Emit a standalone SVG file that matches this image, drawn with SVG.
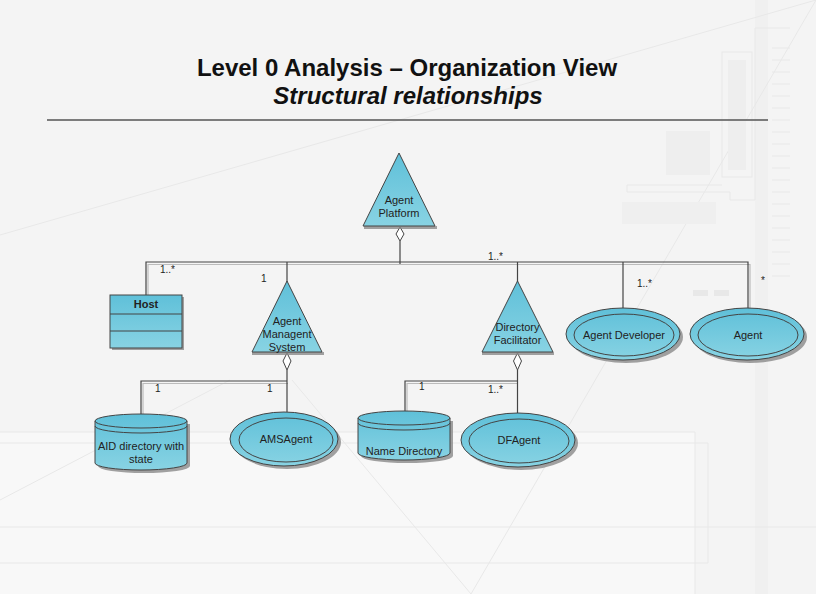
<svg xmlns="http://www.w3.org/2000/svg" width="816" height="594" viewBox="0 0 816 594">
<defs>
<linearGradient id="g" x1="0" y1="0" x2="0" y2="1">
<stop offset="0" stop-color="#5FC0D9"/>
<stop offset="1" stop-color="#88D3E3"/>
</linearGradient>
<style>
.t{font-family:"Liberation Sans",Arial,sans-serif;fill:#111}
.lbl{font-family:"Liberation Sans",Arial,sans-serif;font-size:11px;fill:#222;text-anchor:middle}
.m{font-family:"Liberation Sans",Arial,sans-serif;font-size:10px;fill:#222}
.shape{fill:url(#g);stroke:#444;stroke-width:1}
.sh{fill:#8a8a8a;opacity:0.8}
.ln{fill:none;stroke:#444;stroke-width:1.2}
.lns{fill:none;stroke:#bbb;stroke-width:1.2}
.bg{fill:none;stroke:#e8e8e8;stroke-width:1}
.dia{fill:#fff;stroke:#444;stroke-width:1}
</style>
</defs>
<!-- background -->
<rect width="816" height="594" fill="#f4f4f4"/>
<rect x="0" y="432" width="695" height="162" fill="#f8f8f8"/>
<rect x="755" y="0" width="13" height="594" fill="#f0f0f0"/>
<g class="bg">
<line x1="0" y1="432" x2="695" y2="432"/>
<line x1="0" y1="443" x2="708" y2="443"/>
<line x1="0" y1="527" x2="816" y2="527"/>
<line x1="0" y1="563" x2="708" y2="563"/>
<line x1="695" y1="432" x2="695" y2="594"/>
<line x1="708" y1="443" x2="708" y2="563"/>
<line x1="816" y1="0" x2="0" y2="235"/>
<line x1="816" y1="0" x2="471" y2="594"/>
<line x1="292" y1="380" x2="471" y2="594"/>
<line x1="230" y1="380" x2="0" y2="500"/>
<line x1="772" y1="48" x2="790" y2="48"/><line x1="772" y1="60" x2="790" y2="60"/>
<line x1="772" y1="72" x2="790" y2="72"/><line x1="772" y1="84" x2="790" y2="84"/>
<line x1="772" y1="96" x2="790" y2="96"/><line x1="772" y1="108" x2="790" y2="108"/>
<line x1="772" y1="120" x2="790" y2="120"/><line x1="772" y1="132" x2="790" y2="132"/>
<line x1="772" y1="144" x2="790" y2="144"/><line x1="772" y1="156" x2="790" y2="156"/>
<line x1="772" y1="168" x2="790" y2="168"/><line x1="772" y1="180" x2="790" y2="180"/>
<line x1="772" y1="192" x2="790" y2="192"/><line x1="772" y1="204" x2="790" y2="204"/>
<line x1="772" y1="216" x2="790" y2="216"/><line x1="772" y1="228" x2="790" y2="228"/>
<line x1="772" y1="240" x2="790" y2="240"/><line x1="772" y1="252" x2="790" y2="252"/>
<line x1="772" y1="264" x2="790" y2="264"/><line x1="772" y1="276" x2="790" y2="276"/>
<polyline points="790,28 755,28 755,200 730,200 730,192 627,192 627,185 722,185"/>
<rect x="722" y="52" width="30" height="125"/>
</g>
<rect x="666" y="131" width="44" height="44" fill="#eeeeee"/>
<rect x="622" y="202" width="94" height="22" fill="#efefef"/>
<rect x="728" y="60" width="18" height="110" fill="#eeeeee"/>
<rect x="693" y="290" width="15" height="6" fill="#e8e8e8"/>
<rect x="714" y="290" width="15" height="6" fill="#e8e8e8"/>
<!-- title -->
<text class="t" x="407" y="76" font-size="24" font-weight="bold" text-anchor="middle">Level 0 Analysis – Organization View</text>
<text class="t" x="408" y="104" font-size="24" font-weight="bold" font-style="italic" text-anchor="middle">Structural relationships</text>
<line x1="47" y1="120" x2="768" y2="120" stroke="#555" stroke-width="1.5"/>
<!-- connectors -->
<g id="connectors">
<polyline class="lns" points="148,295 148,264.5 750,264.5 750,309"/>
<polyline class="ln" points="146,295 146,262 748,262 748,309"/>
<line class="ln" x1="400" y1="241" x2="400" y2="264"/>
<line class="ln" x1="287" y1="262" x2="287" y2="282"/>
<line class="ln" x1="517.5" y1="262" x2="517.5" y2="282"/>
<line class="ln" x1="623" y1="262" x2="623" y2="309"/>
<polyline class="lns" points="143,414 143,383.5 288,383.5"/>
<polyline class="ln" points="141,414 141,381 287,381"/>
<line class="ln" x1="287" y1="370" x2="287" y2="412"/>
<polyline class="lns" points="407,412 407,383.5 518,383.5"/>
<polyline class="ln" points="405,412 405,381 517.5,381"/>
<line class="ln" x1="517.5" y1="370" x2="517.5" y2="413"/>
<polygon class="dia" points="400,227 404,234 400,241 396,234"/>
<polygon class="dia" points="287,353 291,361 287,370 283,361"/>
<polygon class="dia" points="517.5,353 521.5,361 517.5,370 513.5,361"/>
<text class="m" x="160" y="273">1..*</text>
<text class="m" x="261" y="282">1</text>
<text class="m" x="488" y="260">1..*</text>
<text class="m" x="637" y="287">1..*</text>
<text class="m" x="761" y="284">*</text>
<text class="m" x="155" y="392">1</text>
<text class="m" x="267" y="392">1</text>
<text class="m" x="419" y="390">1</text>
<text class="m" x="488" y="393">1..*</text>
</g>
<!-- nodes -->
<g id="agent-platform">
<rect class="sh" x="364" y="226" width="73" height="3"/>
<polygon class="shape" points="399,153 435,226 363,226"/>
<text class="lbl" x="399" y="204">Agent</text>
<text class="lbl" x="399" y="217">Platform</text>
</g>
<g id="host">
<rect class="sh" x="112" y="297" width="72" height="53"/>
<rect class="shape" x="110" y="295" width="72" height="53"/>
<line x1="110" y1="314" x2="182" y2="314" stroke="#444"/>
<line x1="110" y1="331" x2="182" y2="331" stroke="#444"/>
<text class="lbl" x="146" y="308" font-weight="bold">Host</text>
</g>
<g id="ams">
<rect class="sh" x="252" y="352" width="72" height="3"/>
<polygon class="shape" points="287,281 322,352 252,352"/>
<text class="lbl" x="287" y="325">Agent</text>
<text class="lbl" x="287" y="338">Managent</text>
<text class="lbl" x="287" y="351">System</text>
</g>
<g id="df">
<rect class="sh" x="482" y="352" width="72" height="3"/>
<polygon class="shape" points="517.5,281 553,352 482,352"/>
<text class="lbl" x="517.5" y="331">Directory</text>
<text class="lbl" x="517.5" y="344">Facilitator</text>
</g>
<g id="agent-developer">
<ellipse class="sh" cx="626" cy="337" rx="57" ry="26"/>
<ellipse class="shape" cx="623" cy="334" rx="57" ry="26"/>
<ellipse fill="none" stroke="#444" cx="624" cy="335" rx="50" ry="21"/>
<text class="lbl" x="624" y="339">Agent Developer</text>
</g>
<g id="agent">
<ellipse class="sh" cx="750" cy="337" rx="57" ry="26"/>
<ellipse class="shape" cx="747" cy="334" rx="57" ry="26"/>
<ellipse fill="none" stroke="#444" cx="748" cy="335" rx="50" ry="21"/>
<text class="lbl" x="748" y="339">Agent</text>
</g>
<g id="aid-directory">
<path class="sh" d="M98,424 v42 a46,7 0 0 0 92,0 v-42 z"/>
<path class="shape" d="M95,421 v42 a46,7 0 0 0 92,0 v-42 a46,7 0 0 0 -92,0 z"/>
<path fill="none" stroke="#444" d="M95,421 a46,7 0 0 0 92,0"/>
<path fill="none" stroke="#444" d="M95,426 a46,7 0 0 0 92,0"/>
<text class="lbl" x="141" y="450">AID directory with</text>
<text class="lbl" x="141" y="463">state</text>
</g>
<g id="amsagent">
<ellipse class="sh" cx="287" cy="442" rx="54" ry="27"/>
<ellipse class="shape" cx="284" cy="439" rx="54" ry="27"/>
<ellipse fill="none" stroke="#444" cx="286" cy="440" rx="47" ry="22"/>
<text class="lbl" x="286" y="443">AMSAgent</text>
</g>
<g id="name-directory">
<path class="sh" d="M361,421 v35 a46,7 0 0 0 92,0 v-35 z"/>
<path class="shape" d="M358,418 v35 a46,7 0 0 0 92,0 v-35 a46,7 0 0 0 -92,0 z"/>
<path fill="none" stroke="#444" d="M358,418 a46,7 0 0 0 92,0"/>
<path fill="none" stroke="#444" d="M358,423 a46,7 0 0 0 92,0"/>
<text class="lbl" x="404" y="455">Name Directory</text>
</g>
<g id="dfagent">
<ellipse class="sh" cx="521" cy="443" rx="57" ry="27"/>
<ellipse class="shape" cx="518" cy="440" rx="57" ry="27"/>
<ellipse fill="none" stroke="#444" cx="519" cy="441" rx="50" ry="22"/>
<text class="lbl" x="519" y="444">DFAgent</text>
</g>
</svg>
